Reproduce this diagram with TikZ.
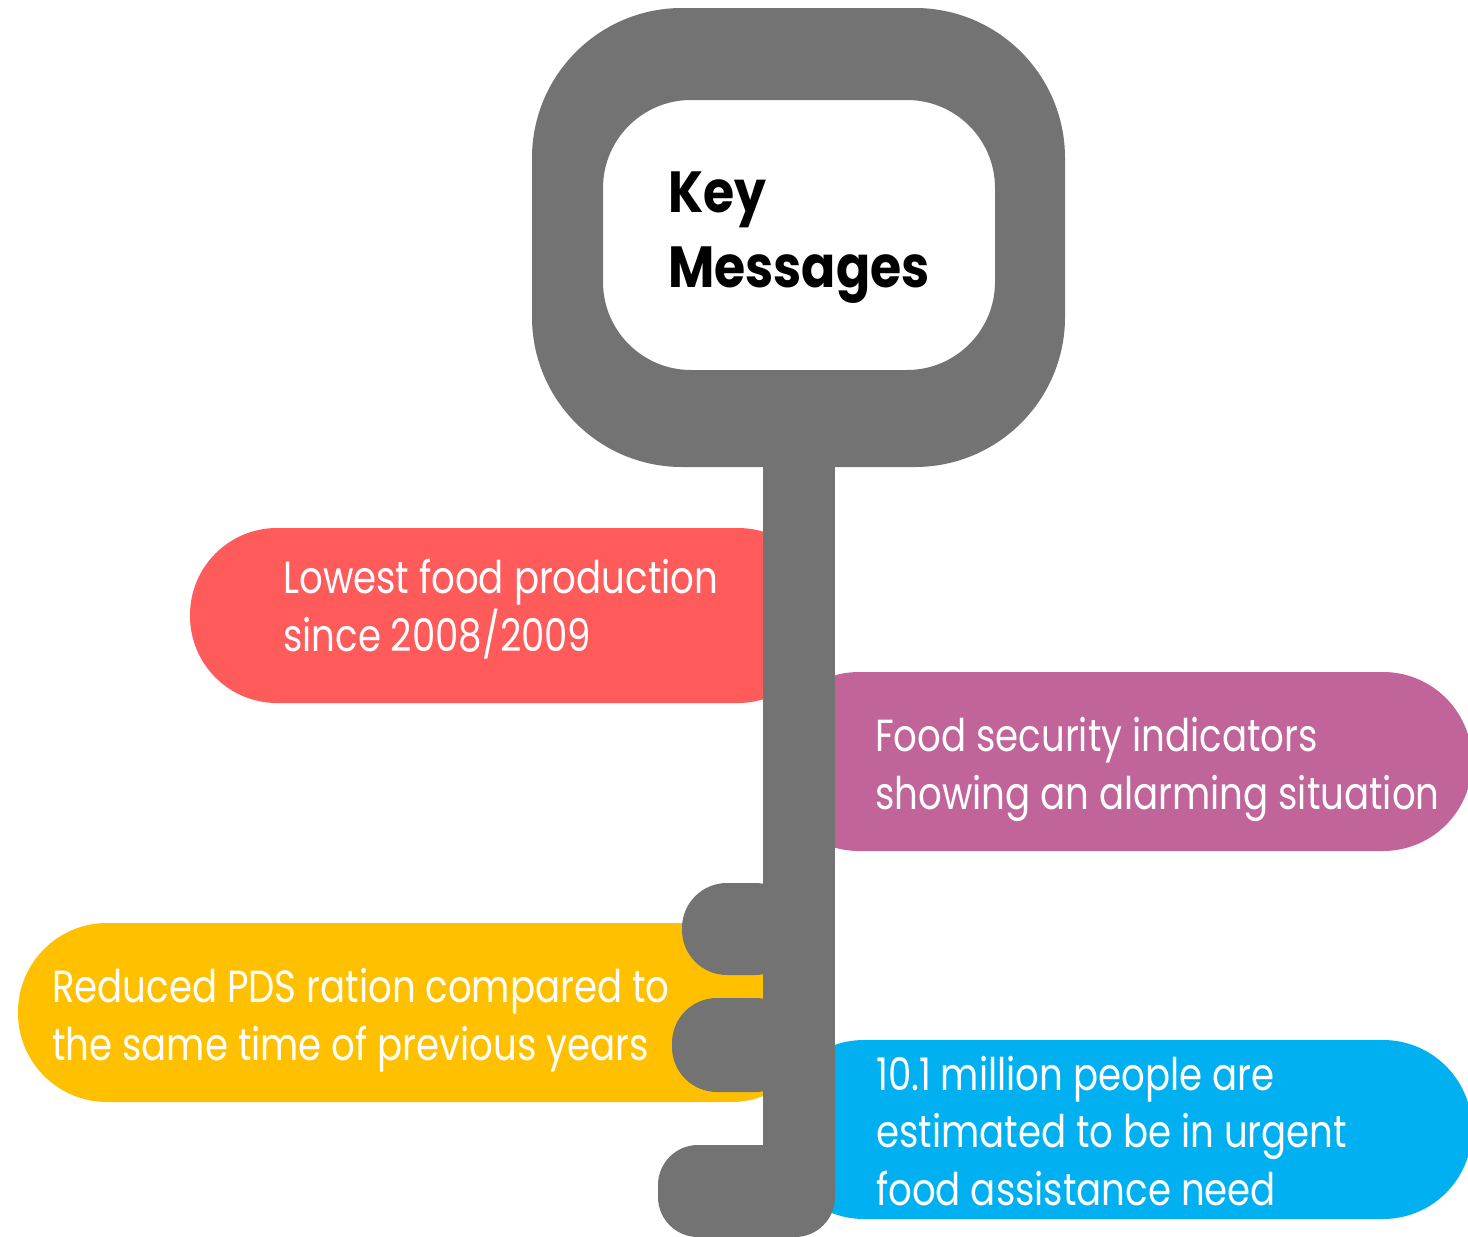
\documentclass[tikz,border=0pt]{standalone}
\usepackage{fontspec}
\setmainfont[FakeStretch=0.825]{Poppins}
\newfontfamily\keyfont[FakeStretch=0.87]{Poppins}
\definecolor{keygray}{HTML}{737373}
\definecolor{pillred}{HTML}{FF5B5B}
\definecolor{pillpurple}{HTML}{C0649A}
\definecolor{pillyellow}{HTML}{FFC000}
\definecolor{pillblue}{HTML}{00B0F0}
\tikzset{
  pill/.style={fill=#1, draw=none},
  keypart/.style={fill=keygray, draw=none},
  msg/.style={anchor=base west, text=white, align=left, inner sep=0pt,
    font=\fontsize{45}{57.5}\selectfont},
}
\begin{document}
\begin{tikzpicture}[x=1pt,y=-1pt]
\clip (0,0) rectangle (1468,1237);
\fill[white] (0,0) rectangle (1468,1237);
% pills
\fill[pill=pillred, rounded corners=87] (190,528) rectangle (825,703);
\fill[pill=pillpurple, rounded corners=89] (770,672) rectangle (1472,851);
\fill[pill=pillyellow, rounded corners=89] (18,923) rectangle (820,1102);
\fill[pill=pillblue, rounded corners=89] (775,1040) rectangle (1472,1219);
% key bow
\fill[keypart, even odd rule]
  [rounded corners=150] (532,8) rectangle (1065,467)
  [rounded corners=88] (603,100) rectangle (995,370);
% shaft
\fill[keypart] (763,440) rectangle (835,1200);
% teeth
\fill[keypart, rounded corners=45] (682,883) rectangle (800,975);
\fill[keypart, rounded corners=45] (672,998) rectangle (800,1092);
\fill[keypart, rounded corners=40] (658,1145) rectangle (835,1237);
% texts
\node[anchor=base west, inner sep=0pt, align=left, font=\keyfont\bfseries\fontsize{58}{75}\selectfont] (key) at (668,287) {Key\\Messages};
\node[msg] (t1) at (283,651) {Lowest food production\\since 2008/2009};
\node[msg] (t2) at (875,809) {Food security indicators\\showing an alarming situation};
\node[msg] (t3) at (52,1060) {Reduced PDS ration compared to\\the same time of previous years};
\node[msg] (t4) at (876,1205) {10.1 million people are\\estimated to be in urgent\\food assistance need};
\end{tikzpicture}
\end{document}
